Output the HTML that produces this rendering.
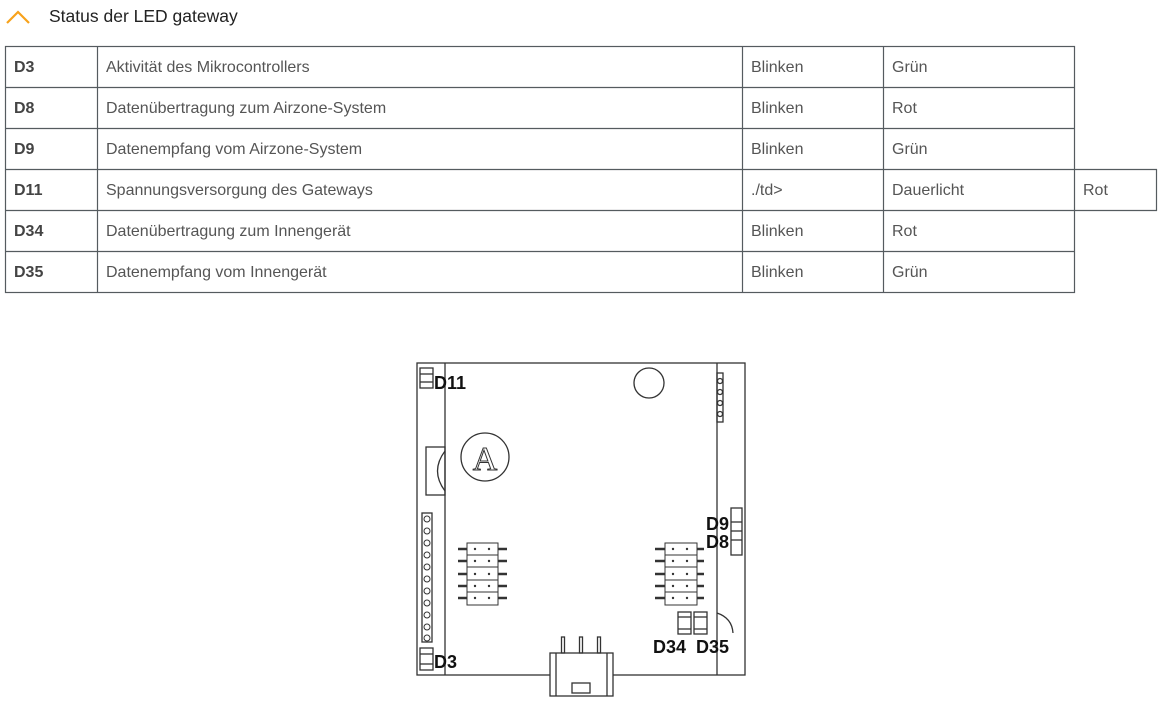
<!DOCTYPE html>
<html><head><meta charset="utf-8"><style>
html,body{margin:0;padding:0;background:#fff;width:1166px;height:704px;overflow:hidden}
svg{display:block}
</style></head><body>
<svg width="1166" height="704" viewBox="0 0 1166 704" xmlns="http://www.w3.org/2000/svg" font-family="Liberation Sans, sans-serif">
<polyline points="7,23 18,12 29,23" fill="none" stroke="#f7a21b" stroke-width="2.2"/>
<text x="49" y="22" font-size="17.5" fill="#222">Status der LED gateway</text>
<g stroke="#555b5f" stroke-width="1.2" fill="none">
<rect x="5.5" y="46.5" width="1069" height="246"/>
<line x1="5" y1="87.5" x2="1075" y2="87.5"/>
<line x1="5" y1="128.5" x2="1075" y2="128.5"/>
<line x1="5" y1="169.5" x2="1157" y2="169.5"/>
<line x1="5" y1="210.5" x2="1157" y2="210.5"/>
<line x1="5" y1="251.5" x2="1075" y2="251.5"/>
<line x1="97.5" y1="46" x2="97.5" y2="293"/>
<line x1="742.5" y1="46" x2="742.5" y2="293"/>
<line x1="883.5" y1="46" x2="883.5" y2="293"/>
<line x1="1156.5" y1="169" x2="1156.5" y2="211"/>
</g>
<g font-size="16" fill="#555">
<g font-weight="bold" fill="#444">
<text x="14" y="72">D3</text><text x="14" y="113">D8</text><text x="14" y="154">D9</text>
<text x="14" y="195">D11</text><text x="14" y="236">D34</text><text x="14" y="277">D35</text>
</g>
<text x="106" y="72">Aktivität des Mikrocontrollers</text>
<text x="106" y="113">Datenübertragung zum Airzone-System</text>
<text x="106" y="154">Datenempfang vom Airzone-System</text>
<text x="106" y="195">Spannungsversorgung des Gateways</text>
<text x="106" y="236">Datenübertragung zum Innengerät</text>
<text x="106" y="277">Datenempfang vom Innengerät</text>
<text x="751" y="72">Blinken</text><text x="892" y="72">Grün</text>
<text x="751" y="113">Blinken</text><text x="892" y="113">Rot</text>
<text x="751" y="154">Blinken</text><text x="892" y="154">Grün</text>
<text x="751" y="195">./td&gt;</text><text x="892" y="195">Dauerlicht</text><text x="1083" y="195">Rot</text>
<text x="751" y="236">Blinken</text><text x="892" y="236">Rot</text>
<text x="751" y="277">Blinken</text><text x="892" y="277">Grün</text>
</g>
<g stroke="#333" stroke-width="1.3" fill="none">
<rect x="417" y="363" width="328" height="312" fill="#fff"/>
<line x1="445" y1="363" x2="445" y2="675"/>
<line x1="717" y1="363" x2="717" y2="675"/>
<rect x="420" y="368" width="13" height="20"/><line x1="420" y1="374" x2="433" y2="374"/><line x1="420" y1="382" x2="433" y2="382"/>
<rect x="420" y="648" width="13" height="22"/><line x1="420" y1="654" x2="433" y2="654"/><line x1="420" y1="664" x2="433" y2="664"/>
<circle cx="649" cy="383" r="15"/>
<rect x="717" y="373" width="6" height="49"/>
<circle cx="720" cy="381" r="2.5"/><circle cx="720" cy="392" r="2.5"/><circle cx="720" cy="403" r="2.5"/><circle cx="720" cy="414" r="2.5"/>
<circle cx="485" cy="457" r="24"/>
<rect x="426" y="447" width="19" height="48"/><path d="M445,451 Q430,471 445,491"/>
<rect x="422" y="513" width="10" height="129"/>
<g stroke-width="1">
<circle cx="427" cy="519" r="3"/><circle cx="427" cy="531" r="3"/><circle cx="427" cy="543" r="3"/><circle cx="427" cy="555" r="3"/><circle cx="427" cy="567" r="3"/><circle cx="427" cy="579" r="3"/><circle cx="427" cy="591" r="3"/><circle cx="427" cy="603" r="3"/><circle cx="427" cy="615" r="3"/><circle cx="427" cy="627" r="3"/><circle cx="427" cy="638" r="3"/>
</g>
<rect x="731" y="508" width="11" height="47"/><line x1="731" y1="522" x2="742" y2="522"/><line x1="731" y1="531" x2="742" y2="531"/><line x1="731" y1="540" x2="742" y2="540"/>
<rect x="678" y="612" width="13" height="22"/><line x1="678" y1="617" x2="691" y2="617"/><line x1="678" y1="629" x2="691" y2="629"/>
<rect x="694" y="612" width="13" height="22"/><line x1="694" y1="617" x2="707" y2="617"/><line x1="694" y1="629" x2="707" y2="629"/>
<path d="M717,613 Q732,618 733,633"/>
<rect x="550" y="653" width="63" height="43" fill="#fff"/>
<line x1="556" y1="653" x2="556" y2="696"/><line x1="607" y1="653" x2="607" y2="696"/>
<rect x="572" y="683" width="18" height="10"/>
<rect x="561.5" y="637" width="3" height="16"/><rect x="579.5" y="637" width="3" height="16"/><rect x="597.5" y="637" width="3" height="16"/>
</g>
<g stroke="#333" stroke-width="1" fill="none">
<g id="hl">
<line x1="458" y1="549" x2="507" y2="549" stroke-width="2.5"/>
<line x1="458" y1="561" x2="507" y2="561" stroke-width="2.5"/>
<line x1="458" y1="574" x2="507" y2="574" stroke-width="2.5"/>
<line x1="458" y1="586" x2="507" y2="586" stroke-width="2.5"/>
<line x1="458" y1="598" x2="507" y2="598" stroke-width="2.5"/>
</g>
<rect x="467" y="543" width="31" height="62" fill="#fff"/>
<line x1="467" y1="555" x2="498" y2="555"/><line x1="467" y1="567" x2="498" y2="567"/><line x1="467" y1="580" x2="498" y2="580"/><line x1="467" y1="592" x2="498" y2="592"/>
<use href="#hl" x="197"/>
<rect x="665" y="543" width="32" height="62" fill="#fff"/>
<line x1="665" y1="555" x2="697" y2="555"/><line x1="665" y1="567" x2="697" y2="567"/><line x1="665" y1="580" x2="697" y2="580"/><line x1="665" y1="592" x2="697" y2="592"/>
</g>
<g fill="#333">
<circle cx="475" cy="549" r="1.2"/><circle cx="489" cy="549" r="1.2"/><circle cx="475" cy="561" r="1.2"/><circle cx="489" cy="561" r="1.2"/><circle cx="475" cy="574" r="1.2"/><circle cx="489" cy="574" r="1.2"/><circle cx="475" cy="586" r="1.2"/><circle cx="489" cy="586" r="1.2"/><circle cx="475" cy="598" r="1.2"/><circle cx="489" cy="598" r="1.2"/>
<circle cx="673" cy="549" r="1.2"/><circle cx="687" cy="549" r="1.2"/><circle cx="673" cy="561" r="1.2"/><circle cx="687" cy="561" r="1.2"/><circle cx="673" cy="574" r="1.2"/><circle cx="687" cy="574" r="1.2"/><circle cx="673" cy="586" r="1.2"/><circle cx="687" cy="586" r="1.2"/><circle cx="673" cy="598" r="1.2"/><circle cx="687" cy="598" r="1.2"/>
</g>
<text x="485" y="470" font-size="34" font-family="Liberation Serif, serif" text-anchor="middle" fill="none" stroke="#333" stroke-width="1">A</text>
<g font-size="18" font-weight="bold" fill="#111">
<text x="434" y="389">D11</text>
<text x="434" y="668">D3</text>
<text x="729" y="530" text-anchor="end">D9</text>
<text x="729" y="548" text-anchor="end">D8</text>
<text x="653" y="653">D34</text>
<text x="696" y="653">D35</text>
</g>
</svg>
</body></html>
